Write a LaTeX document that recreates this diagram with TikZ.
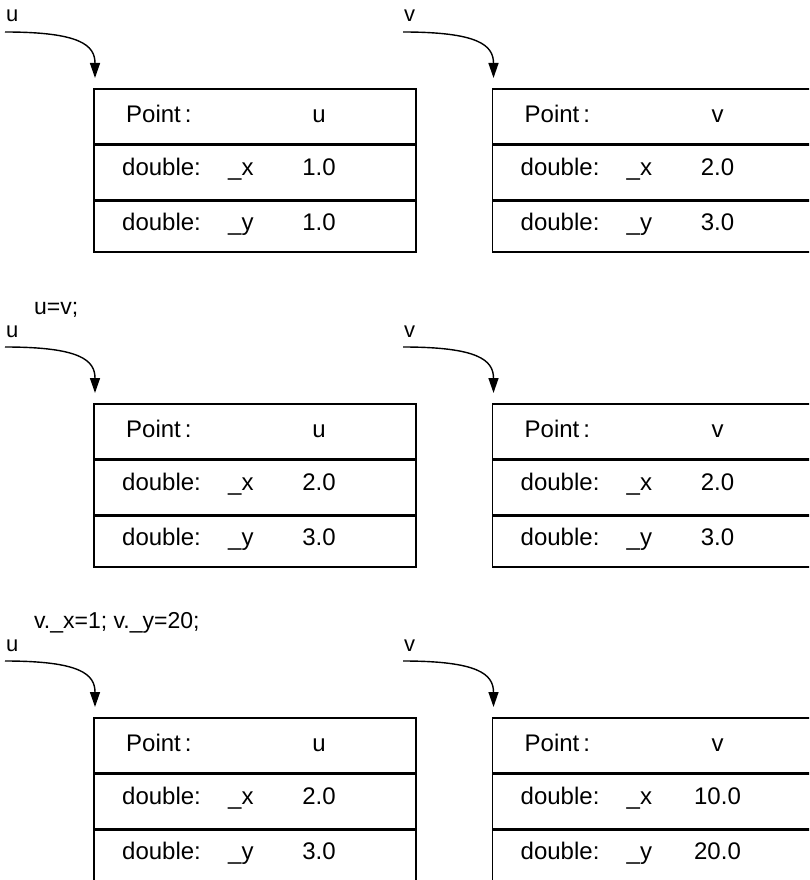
\documentclass[tikz,border=0pt]{standalone}
\usepackage{fontspec}
\setmainfont{Liberation Sans}
\usetikzlibrary{arrows.meta}

\tikzset{
  x=1pt, y=-1pt,
  row/.style={draw, line width=1.6pt, minimum width=322pt, inner sep=0pt, anchor=north west},
  cell/.style={anchor=base west, inner sep=0pt, font=\fontsize{24}{28}\selectfont},
  cellc/.style={anchor=base, inner sep=0pt, font=\fontsize{24}{28}\selectfont},
  varlabel/.style={anchor=base west, inner sep=0pt, font=\fontsize{22}{26}\selectfont},
  code/.style={anchor=base west, inner sep=0pt, font=\fontsize{23}{27}\selectfont},
  ref/.style={line width=1.4pt, -{Triangle[length=15pt,width=10pt]}},
}

% An object of class Point: header row plus the two double fields.
% #1 name prefix, #2/#3 top-left corner, #4 object name, #5 _x value, #6 _y value
\newcommand{\objbox}[6]{%
  \node[row, minimum height=55pt] (#1p) at (#2,#3) {};
  \node[row, minimum height=54pt] (#1x) at (#1p.south west) {};
  \node[row, minimum height=51pt] (#1y) at (#1x.south west) {};
  \node[cell]  (#1pt) at ([shift={(33,34)}]#1p.north west) {Point\,:};
  \node[cellc] (#1pn) at ([shift={(226,34)}]#1p.north west) {#4};
  \node[cell]  (#1xt) at ([shift={(29,31)}]#1x.north west) {double:};
  \node[cell]  (#1xn) at ([shift={(135,31)}]#1x.north west) {\_x};
  \node[cellc] (#1xv) at ([shift={(226,31)}]#1x.north west) {#5};
  \node[cell]  (#1yt) at ([shift={(29,30)}]#1y.north west) {double:};
  \node[cell]  (#1yn) at ([shift={(135,30)}]#1y.north west) {\_y};
  \node[cellc] (#1yv) at ([shift={(226,30)}]#1y.north west) {#6};
}

% A reference variable: its name, then an arrow bending down onto the object.
% #1 name, #2 label x, #3 baseline y, #4 text, #5 target box node
\newcommand{\refvar}[5]{%
  \node[varlabel] (l#1) at (#2+1,#3) {#4};
  \coordinate (s#1) at (#2,#3+10);
  \draw[ref] (s#1) .. controls +(75,0) and +(0,-33) .. ([shift={(2,-10)}]#5.north west);
}

\begin{document}
\begin{tikzpicture}
\useasboundingbox (0,0) rectangle (809,880);
\clip (0,0) rectangle (809,880);

% initial state
\objbox{ua}{93}{88}{u}{1.0}{1.0}
\objbox{va}{491.5}{88}{v}{2.0}{3.0}
\refvar{ua}{5}{22}{u}{uap}
\refvar{va}{403}{22}{v}{vap}

% after the assignment
\node[code] (c1) at (34,314) {u=v;};
\objbox{ub}{93}{403}{u}{2.0}{3.0}
\objbox{vb}{491.5}{403}{v}{2.0}{3.0}
\refvar{ub}{5}{337}{u}{ubp}
\refvar{vb}{403}{337}{v}{vbp}

% after changing v's fields
\node[code] (c2) at (34,628) {v.\_x=1; v.\_y=20;};
\objbox{uc}{93}{717}{u}{2.0}{3.0}
\objbox{vc}{491.5}{717}{v}{10.0}{20.0}
\refvar{uc}{5}{651}{u}{ucp}
\refvar{vc}{403}{651}{v}{vcp}
\end{tikzpicture}
\end{document}
